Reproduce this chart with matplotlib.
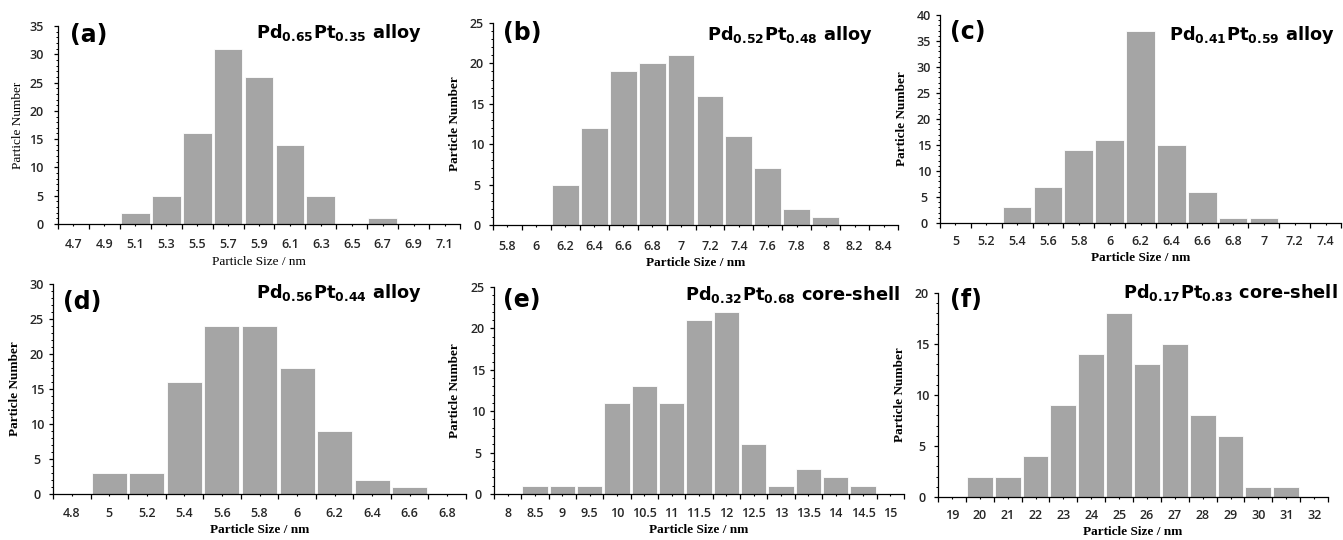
import matplotlib
matplotlib.use("Agg")
import matplotlib.pyplot as plt
import numpy as np

W, H = 1343, 540

# particle size bins (nm) and counts for each sample
sizes_a = ["4.7", "4.9", "5.1", "5.3", "5.5", "5.7", "5.9", "6.1", "6.3", "6.5", "6.7", "6.9", "7.1"]
counts_a = [0, 0, 2, 5, 16, 31, 26, 14, 5, 0, 1, 0, 0]

sizes_b = ["5.8", "6", "6.2", "6.4", "6.6", "6.8", "7", "7.2", "7.4", "7.6", "7.8", "8", "8.2", "8.4"]
counts_b = [0, 0, 5, 12, 19, 20, 21, 16, 11, 7, 2, 1, 0, 0]

sizes_c = ["5", "5.2", "5.4", "5.6", "5.8", "6", "6.2", "6.4", "6.6", "6.8", "7", "7.2", "7.4"]
counts_c = [0, 0, 3, 7, 14, 16, 37, 15, 6, 1, 1, 0, 0]

sizes_d = ["4.8", "5", "5.2", "5.4", "5.6", "5.8", "6", "6.2", "6.4", "6.6", "6.8"]
counts_d = [0, 3, 3, 16, 24, 24, 18, 9, 2, 1, 0]

sizes_e = ["8", "8.5", "9", "9.5", "10", "10.5", "11", "11.5", "12", "12.5", "13", "13.5", "14", "14.5", "15"]
counts_e = [0, 1, 1, 1, 11, 13, 11, 21, 22, 6, 1, 3, 2, 1, 0]

sizes_f = ["19", "20", "21", "22", "23", "24", "25", "26", "27", "28", "29", "30", "31", "32"]
counts_f = [0, 2, 2, 4, 9, 14, 18, 13, 15, 8, 6, 1, 1, 0]

letters = ["(a)", "(b)", "(c)", "(d)", "(e)", "(f)"]
titles = [r"Pd$_\mathbf{0.65}$Pt$_\mathbf{0.35}$ alloy",
          r"Pd$_\mathbf{0.52}$Pt$_\mathbf{0.48}$ alloy",
          r"Pd$_\mathbf{0.41}$Pt$_\mathbf{0.59}$ alloy",
          r"Pd$_\mathbf{0.56}$Pt$_\mathbf{0.44}$ alloy",
          r"Pd$_\mathbf{0.32}$Pt$_\mathbf{0.68}$ core-shell",
          r"Pd$_\mathbf{0.17}$Pt$_\mathbf{0.83}$ core-shell"]
ymax = [35, 25, 40, 30, 25, 20]

# layout in pixels: (left, right, top, bottom) of each axes
boxes = [(58, 460, 26, 224), (493, 898, 23, 225), (940, 1341, 15, 223),
         (53, 466, 284, 494), (494, 904, 287, 494), (938, 1328, 293, 497)]
title_pos = [(422, 22), (873, 24), (1335, 24), (422, 282), (900, 284), (1338, 282)]
letter_pos = [(70, 23), (503, 21), (950, 20), (63, 290), (503, 288), (950, 288)]
xpad = [8.4, 9.1, 7.0, 7.7, 7.7, 7.3]
xlab_off = [38, 38, 35, 36, 36, 35]
ylab_off = [40, 38, 38, 38, 39, 38]

data = [(sizes_a, counts_a), (sizes_b, counts_b), (sizes_c, counts_c),
        (sizes_d, counts_d), (sizes_e, counts_e), (sizes_f, counts_f)]

fig = plt.figure(figsize=(W / 100, H / 100), dpi=100)
tick_font = dict(family="Open Sans", weight="semibold", size=9)

for i, (sizes, counts) in enumerate(data):
    l, r, t, b = boxes[i]
    ax = fig.add_axes([l / W, 1 - b / H, (r - l) / W, (b - t) / H])
    n = len(sizes)
    x = np.arange(n)
    ax.bar(x, counts, width=0.93, color="#a5a5a5", edgecolor="white", linewidth=0.6)
    ax.set_xlim(-0.5, n - 0.5)
    ax.set_ylim(0, ymax[i])
    for s in ["top", "right"]:
        ax.spines[s].set_visible(False)
    for s in ["left", "bottom"]:
        ax.spines[s].set_color("black")
        ax.spines[s].set_linewidth(0.9)

    ax.set_xticks(np.arange(n + 1) - 0.5)
    ax.set_xticklabels([])
    ax.set_xticks(x, minor=True)
    ax.set_xticklabels(sizes, minor=True, color="#262626", **tick_font)
    ax.tick_params(axis="x", which="major", length=3.5, width=0.9)
    ax.tick_params(axis="x", which="minor", length=1.5, width=0.8, pad=xpad[i])

    ax.set_yticks(np.arange(0, ymax[i] + 1, 5))
    ax.set_yticks(np.arange(0, ymax[i] + 1, 1), minor=True)
    yha = "right" if i == 0 else "center"
    ax.set_yticklabels([str(v) for v in range(0, ymax[i] + 1, 5)], color="#262626",
                       ha=yha, **tick_font)
    ax.tick_params(axis="y", which="major", length=3, width=0.9,
                   pad=7.2 if i == 0 else 8.6)
    ax.tick_params(axis="y", which="minor", length=1.5, width=0.7)

    wt = "normal" if i == 0 else "bold"
    ax.set_xlabel("Particle Size / nm", family="Liberation Serif", size=9.5, weight=wt)
    ax.set_ylabel("Particle Number", family="Liberation Serif", size=9.5, weight=wt)
    ax.xaxis.label.set_va("center")
    ax.yaxis.label.set_va("center")
    ax.xaxis.set_label_coords(0.5, -xlab_off[i] / (b - t))
    ax.yaxis.set_label_coords(-ylab_off[i] / (r - l), 0.5)

    tx, ty = title_pos[i]
    fig.text(tx / W, 1 - ty / H, titles[i], ha="right", va="top",
             family="DejaVu Sans", weight="bold", size=12.8)
    lx, ly = letter_pos[i]
    fig.text(lx / W, 1 - ly / H, letters[i], ha="left", va="top",
             family="DejaVu Sans", weight="bold", size=17)

fig.savefig("out.png", dpi=100)
